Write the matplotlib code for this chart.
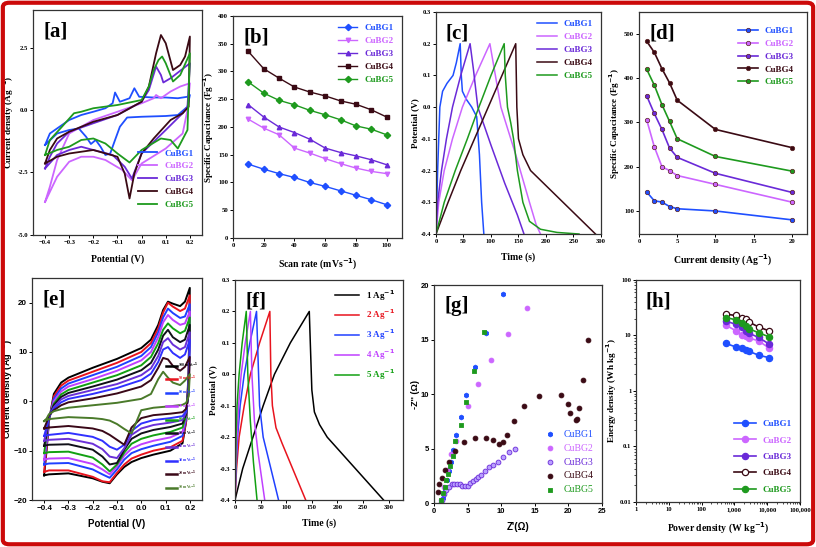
import matplotlib
matplotlib.use("Agg")
import matplotlib.pyplot as plt
from matplotlib.patches import FancyBboxPatch
from matplotlib.ticker import LogLocator, NullFormatter

plt.rcParams['font.family'] = ['Liberation Serif', 'DejaVu Serif']
plt.rcParams['font.weight'] = 'bold'
plt.rcParams['axes.labelweight'] = 'bold'
plt.rcParams['mathtext.default'] = 'bf'

# ---------------- data ----------------
names = ["CuBG1", "CuBG2", "CuBG3", "CuBG4", "CuBG5"]
colors = ["#1f4fff", "#cc66ff", "#6a2ad8", "#3a0a14", "#1e9a1e"]

# [a] CV at 10 mV/s, (potential, current) pairs for each sample
cv_a = {
    "CuBG1": [(-0.4, -1.4), (-0.38, -0.94), (-0.3, -0.4), (-0.25, -0.2), (-0.2, -0.07), (-0.15, 0.07),
              (-0.12, 0.27), (-0.11, 0.7), (-0.09, 0.33), (-0.05, 0.47), (-0.03, 0.87), (-0.01, 0.53),
              (0.05, 0.5), (0.1, 0.5), (0.15, 0.47), (0.19, 0.53), (0.2, 0.6),
              (0.19, 0.13), (0.15, -0.2), (0.1, -0.24), (0.0, -0.27), (-0.06, -0.3), (-0.09, -0.67),
              (-0.11, -1.2), (-0.13, -1.74), (-0.15, -1.8), (-0.17, -1.47), (-0.19, -1.2), (-0.21, -1.36),
              (-0.23, -1.07), (-0.26, -0.74), (-0.3, -0.8), (-0.35, -0.94), (-0.4, -1.4)],
    "CuBG2": [(-0.4, -3.68), (-0.38, -3.07), (-0.35, -2.0), (-0.3, -0.94), (-0.2, -0.4), (-0.1, -0.07),
              (0.0, 0.27), (0.05, 0.47), (0.06, 0.6), (0.08, 0.47), (0.12, 0.74), (0.16, 0.94), (0.2, 1.07),
              (0.19, 0.0), (0.17, -0.94), (0.1, -1.54), (0.0, -2.14), (-0.04, -2.81), (-0.08, -2.4),
              (-0.15, -2.0), (-0.2, -1.87), (-0.25, -1.87), (-0.3, -2.07), (-0.35, -2.67), (-0.4, -3.68)],
    "CuBG3": [(-0.4, -2.34), (-0.38, -1.87), (-0.35, -1.34), (-0.3, -0.87), (-0.2, -0.53), (-0.1, -0.2),
              (0.0, 0.33), (0.03, 0.8), (0.06, 1.74), (0.08, 1.4), (0.09, 1.1), (0.12, 1.27), (0.2, 1.87),
              (0.19, 0.13), (0.17, -0.13), (0.1, -0.8), (0.0, -1.74), (-0.04, -2.74), (-0.07, -2.27),
              (-0.12, -1.8), (-0.2, -1.6), (-0.25, -1.47), (-0.3, -1.6), (-0.35, -1.8), (-0.4, -2.34)],
    "CuBG4": [(-0.4, -2.14), (-0.38, -1.6), (-0.35, -1.14), (-0.3, -0.87), (-0.2, -0.47), (-0.1, -0.2),
              (0.0, 0.33), (0.03, 0.94), (0.06, 2.27), (0.08, 3.0), (0.1, 2.67), (0.13, 1.6), (0.16, 1.8),
              (0.18, 2.14), (0.2, 2.94),
              (0.195, 0.13), (0.17, -0.13), (0.12, -0.4), (0.05, -1.14), (0.0, -1.74), (-0.03, -2.54),
              (-0.05, -3.54), (-0.07, -2.54), (-0.1, -1.87), (-0.2, -1.6), (-0.3, -1.74), (-0.35, -1.87),
              (-0.4, -2.14)],
    "CuBG5": [(-0.4, -1.8), (-0.38, -1.2), (-0.33, -0.67), (-0.28, -0.13), (-0.25, -0.07), (-0.2, 0.07),
              (-0.1, 0.2), (0.0, 0.4), (0.03, 0.94), (0.05, 1.6), (0.07, 2.0), (0.085, 2.14), (0.1, 1.87),
              (0.13, 1.14), (0.16, 1.4), (0.2, 2.27),
              (0.19, -0.8), (0.15, -1.54), (0.12, -1.2), (0.08, -1.14), (0.0, -1.6), (-0.05, -2.1),
              (-0.1, -1.74), (-0.15, -1.34), (-0.2, -1.14), (-0.25, -1.2), (-0.3, -1.47), (-0.35, -1.6),
              (-0.4, -1.8)],
}

# [b] specific capacitance vs scan rate
scan_rate = [10, 20, 30, 40, 50, 60, 70, 80, 90, 100]
cs_scan = {
    "CuBG1": [133, 124, 116, 109, 100, 93, 85, 77, 69, 60],
    "CuBG2": [214, 198, 186, 162, 153, 143, 134, 126, 120, 116],
    "CuBG3": [240, 218, 200, 190, 178, 162, 154, 148, 141, 132],
    "CuBG4": [336, 305, 288, 272, 263, 256, 247, 241, 231, 218],
    "CuBG5": [281, 261, 248, 240, 230, 222, 213, 202, 196, 186],
}

# [c] GCD at 1 A/g
gcd_c = {
    "CuBG1": [(0, -0.4), (3, -0.2), (7, 0.0), (12, 0.05), (20, 0.075), (31, 0.1), (37, 0.14), (44, 0.2),
              (46, 0.1), (48, 0.05), (55, 0.025), (65, 0.0), (74, -0.03), (79, -0.15), (83, -0.3), (87, -0.4)],
    "CuBG2": [(0, -0.4), (5, -0.3), (15, -0.2), (30, -0.1), (48, 0.0), (72, 0.1), (98, 0.2),
              (108, 0.1), (118, 0.0), (145, -0.15), (170, -0.3), (182, -0.37), (190, -0.4)],
    "CuBG3": [(0, -0.4), (3, -0.3), (10, -0.2), (19, -0.1), (30, 0.0), (45, 0.1), (62, 0.2),
              (68, 0.12), (76, 0.0), (100, -0.12), (125, -0.24), (148, -0.34), (160, -0.4)],
    "CuBG4": [(0, -0.4), (22, -0.3), (45, -0.2), (70, -0.1), (95, 0.0), (120, 0.1), (145, 0.2),
              (147, 0.0), (150, -0.1), (158, -0.15), (172, -0.2), (290, -0.4)],
    "CuBG5": [(0, -0.4), (15, -0.3), (35, -0.2), (57, -0.1), (78, 0.0), (100, 0.1), (124, 0.2),
              (126, 0.1), (130, 0.0), (136, -0.05), (141, -0.1), (148, -0.2), (158, -0.3), (170, -0.36),
              (190, -0.385), (220, -0.395), (260, -0.4)],
}

# [d] specific capacitance vs current density
current_density = [1, 2, 3, 4, 5, 10, 20]
cs_current = {
    "CuBG1": [143, 123, 120, 110, 105, 100, 80],
    "CuBG2": [306, 245, 200, 191, 180, 160, 120],
    "CuBG3": [360, 320, 284, 242, 221, 185, 142],
    "CuBG4": [483, 458, 421, 389, 350, 284, 243],
    "CuBG5": [420, 384, 340, 302, 263, 223, 190],
}

# [e] CV of CuBG4 at different scan rates
e_labels = ["100 mVs$^{-1}$", "90 mVs$^{-1}$", "80 mVs$^{-1}$", "70 mVs$^{-1}$", "60 mVs$^{-1}$",
            "50 mVs$^{-1}$", "40 mVs$^{-1}$", "30 mVs$^{-1}$", "20 mVs$^{-1}$", "10 mVs$^{-1}$"]
e_colors = ["#000000", "#e8141e", "#2040ff", "#c040ff", "#12a012",
            "#101018", "#6a30d8", "#3030ff", "#3a0818", "#4a7a2a"]
e_fwd_v = [-0.4, -0.39, -0.38, -0.36, -0.33, -0.3, -0.2, -0.1, 0.0, 0.04, 0.07, 0.09, 0.11, 0.13, 0.16, 0.18, 0.2]
e_rev_v = [0.2, 0.195, 0.185, 0.17, 0.12, 0.05, 0.0, -0.04, -0.07, -0.1, -0.13, -0.16, -0.2, -0.3, -0.38, -0.4]
e_fwd_i = [
    [-15, -10, -4, 1.5, 3.8, 4.8, 6.8, 8.6, 10.8, 12.5, 15.5, 18.5, 20.2, 19.8, 19.3, 20.2, 23],
    [-14.3, -9.5, -4, 1, 3.2, 4.2, 6.0, 7.8, 10.0, 11.8, 14.8, 18, 20.0, 19.2, 18.3, 18.8, 21.5],
    [-12.8, -8.5, -3.8, 0.5, 2.6, 3.6, 5.3, 7.0, 9.2, 11.0, 14.0, 17, 18.8, 17.9, 16.9, 17.2, 19.7],
    [-11.8, -8, -3.6, 0, 2, 3.0, 4.5, 6.2, 8.3, 10.0, 13, 16, 17.5, 16.5, 15.5, 15.8, 18.2],
    [-10.5, -7, -3.4, -0.5, 1.4, 2.3, 3.8, 5.3, 7.3, 9.0, 11.8, 14.5, 15.8, 14.8, 13.8, 14.3, 17],
    [-9, -6.5, -3.2, -0.8, 0.9, 1.7, 3.0, 4.4, 6.3, 7.8, 10.5, 13.3, 14.5, 13.0, 12.0, 12.5, 15.5],
    [-8, -6, -3, -1.2, 0.4, 1.1, 2.3, 3.5, 5.3, 6.7, 9.2, 12, 12.8, 11.5, 10.5, 11, 14],
    [-7, -5.3, -3, -1.5, -0.2, 0.5, 1.5, 2.7, 4.3, 5.6, 8.0, 10.5, 11.0, 9.8, 8.8, 9.5, 12.5],
    [-5.5, -4.3, -2.8, -1.8, -0.8, -0.2, 0.6, 1.6, 3.0, 4.3, 6.8, 8.8, 8.5, 7.2, 6.2, 7.0, 9],
    [-4, -3.5, -2.6, -2.0, -1.6, -1.3, -0.8, -0.3, 0.5, 1.5, 4.5, 6.0, 4.8, 3.8, 3.3, 4.2, 5.5],
]
e_rev_i = [
    [23, 6, -4, -8.5, -10, -10.8, -11.5, -12.3, -13.3, -14.8, -16.6, -16.3, -15.6, -14.6, -14.8, -15],
    [21.5, 5, -4, -8, -9.3, -10.0, -10.8, -11.6, -12.8, -14.5, -16.4, -16.2, -15.3, -14.0, -14.0, -14.3],
    [19.7, 4.5, -3.5, -7, -8.2, -9.0, -9.7, -10.5, -11.8, -13.8, -15.5, -14.8, -13.8, -12.5, -12.6, -12.8],
    [18.2, 4, -3, -6.2, -7.3, -8.0, -8.7, -9.6, -11.0, -13.2, -14.8, -13.8, -12.7, -11.5, -11.6, -11.8],
    [17, 3.5, -2.8, -5.3, -6.2, -6.9, -7.6, -8.6, -10.4, -12.8, -14.2, -12.8, -11.4, -10.2, -10.3, -10.5],
    [15.5, 3, -2.5, -4.5, -5.2, -5.8, -6.5, -7.6, -9.8, -12.5, -12.8, -11.2, -9.8, -8.7, -8.8, -9],
    [14, 2.5, -2.2, -3.8, -4.3, -4.8, -5.5, -6.8, -9.5, -11.5, -11.2, -9.7, -8.6, -7.6, -7.8, -8],
    [12.5, 2, -2, -3.0, -3.4, -3.8, -4.5, -6.0, -8.8, -9.8, -9.2, -8.0, -7.2, -6.4, -6.8, -7],
    [9, 1.5, -1.5, -2.2, -2.5, -2.8, -3.4, -5.3, -8.8, -7.8, -6.8, -6.0, -5.5, -5.0, -5.3, -5.5],
    [5.5, 1, -0.3, -0.7, -1.0, -1.3, -1.8, -6.5, -5.6, -4.6, -3.9, -3.6, -3.4, -3.2, -3.6, -4],
]

# [f] GCD of CuBG4 at different current densities
f_labels = ["1 Ag$^{-1}$", "2 Ag$^{-1}$", "3 Ag$^{-1}$", "4 Ag$^{-1}$", "5 Ag$^{-1}$"]
f_colors = ["#000000", "#e8141e", "#2040ff", "#c040ff", "#12a012"]
gcd_f = [
    [(0, -0.4), (15, -0.3), (35, -0.2), (55, -0.1), (77, 0.0), (108, 0.1), (145, 0.2),
     (148, 0.05), (150, -0.05), (155, -0.12), (165, -0.16), (180, -0.2), (290, -0.4)],
    [(0, -0.4), (3, -0.3), (8, -0.2), (18, -0.1), (30, 0.0), (48, 0.1), (68, 0.2),
     (70, 0.0), (73, -0.1), (80, -0.17), (92, -0.22), (138, -0.4)],
    [(0, -0.4), (2, -0.3), (5, -0.2), (10, -0.1), (18, 0.0), (29, 0.1), (42, 0.2),
     (45, 0.05), (48, -0.1), (55, -0.2), (70, -0.3), (85, -0.4)],
    [(0, -0.4), (1.5, -0.3), (4, -0.2), (7, -0.1), (12, 0.0), (20, 0.1), (30, 0.2),
     (33, 0.0), (38, -0.15), (45, -0.25), (58, -0.4)],
    [(0, -0.4), (1, -0.3), (2, -0.2), (4, -0.1), (8, 0.0), (14, 0.1), (22, 0.2),
     (25, 0.0), (30, -0.15), (36, -0.28), (43, -0.4)],
]

# [g] Nyquist plots
z_re = {
    "CuBG1": [10.3, 7.8, 6.1, 4.8, 4.0, 3.3, 2.8, 2.5, 2.2, 2.0, 1.7, 1.3, 1.1],
    "CuBG2": [13.9, 11.0, 8.5, 6.5, 5.1, 3.3, 2.5, 2.0, 1.5, 1.0],
    "CuBG3": [1.0, 1.2, 1.5, 1.8, 2.2, 2.6, 3.0, 3.4, 3.8, 4.2, 4.6, 5.0, 5.4, 5.8, 6.2, 6.6, 7.0,
              7.6, 8.2, 8.8, 9.5, 10.3, 11.1, 12.0],
    "CuBG4": [0.6, 0.8, 1.2, 1.6, 2.2, 3.1, 4.5, 6.1, 7.8, 8.8, 9.6, 10.2, 10.8, 11.9, 13.4, 15.6,
              18.9, 19.9, 20.2, 21.1, 21.3, 21.5, 22.2, 22.9],
    "CuBG5": [7.4, 5.9, 4.7, 4.0, 3.1, 2.8, 2.4, 2.1, 1.8, 1.6, 1.3, 1.1],
}
z_im = {
    "CuBG1": [19.2, 15.6, 12.5, 9.9, 7.9, 6.2, 4.9, 3.8, 2.9, 2.1, 1.2, 0.5, 0.1],
    "CuBG2": [17.9, 15.5, 13.1, 10.9, 8.9, 5.7, 4.5, 3.0, 1.5, 0.3],
    "CuBG3": [0.0, 0.3, 0.8, 1.2, 1.5, 1.7, 1.75, 1.75, 1.7, 1.6, 1.55, 1.6, 1.8, 2.0, 2.2, 2.4, 2.6,
              2.9, 3.3, 3.5, 3.8, 4.2, 4.7, 5.0],
    "CuBG4": [1.0, 1.7, 2.3, 3.0, 3.8, 4.8, 5.6, 6.0, 6.0, 5.8, 5.4, 5.6, 6.2, 7.5, 8.9, 9.8,
              9.9, 9.1, 8.3, 7.6, 7.7, 8.7, 11.3, 15.0],
    "CuBG5": [15.7, 12.1, 9.3, 7.2, 5.7, 4.3, 3.4, 2.7, 2.1, 1.5, 0.9, 0.3],
}

# [h] Ragone plot
power_density = [550, 1100, 1650, 2200, 2750, 5500, 11000]
energy_density = {
    "CuBG1": [7.2, 6.2, 6.0, 5.5, 5.2, 4.4, 4.0],
    "CuBG2": [15.3, 12.2, 10.0, 9.6, 9.0, 8.0, 6.0],
    "CuBG3": [18.0, 16.0, 14.2, 12.1, 11.0, 9.2, 7.1],
    "CuBG4": [24.2, 22.9, 21.0, 19.5, 17.5, 14.2, 12.2],
    "CuBG5": [21.0, 19.2, 17.0, 15.1, 13.2, 11.2, 9.5],
}

# ---------------- figure ----------------
fig = plt.figure(figsize=(8.16, 5.47), dpi=100)
fig.patches.append(FancyBboxPatch((0.0035, 0.005), 0.993, 0.99, boxstyle="round,pad=0,rounding_size=0.008",
                                  transform=fig.transFigure, fill=False, edgecolor="#cc0a0a", linewidth=3.0))

pos = {
    "a": [0.0404, 0.5704, 0.2071, 0.4113],
    "b": [0.2855, 0.5649, 0.2071, 0.4059],
    "c": [0.5343, 0.5722, 0.2022, 0.4059],
    "d": [0.7831, 0.5722, 0.2059, 0.4059],
    "e": [0.0392, 0.0859, 0.2083, 0.4059],
    "f": [0.2880, 0.0859, 0.2059, 0.4022],
    "g": [0.5319, 0.0804, 0.2059, 0.3985],
    "h": [0.7794, 0.0823, 0.2010, 0.4059],
}
# where the y label sits (axes fraction)
ylab_x = {"a": -0.102, "b": -0.098, "c": -0.102, "d": -0.10, "e": -0.097, "f": -0.105, "g": -0.085, "h": -0.105}


def style(ax, tag, xlabel, ylabel, sans=False, tsize=4.8):
    fam = ['Liberation Sans', 'DejaVu Sans'] if sans else ['Liberation Serif', 'DejaVu Serif']
    for s in ax.spines.values():
        s.set_linewidth(0.9)
        s.set_color("#333333")
    ax.tick_params(labelsize=tsize, length=2.2, width=0.7, pad=1.2)
    for lab in ax.get_xticklabels() + ax.get_yticklabels():
        lab.set_family(fam)
        lab.set_fontweight('bold')
    ax.set_xlabel(xlabel, fontsize=7, family=fam)
    ax.set_ylabel(ylabel, fontsize=6.6, family=fam)
    ax.xaxis.set_label_coords(0.5, -0.085)
    ax.yaxis.set_label_coords(ylab_x[tag], 0.5)
    ax.text(0.06, 0.95, "[" + tag + "]", transform=ax.transAxes, fontsize=15, va="top",
            family=['Liberation Serif'], fontweight='bold')


def color_legend(leg, cols):
    for t, c in zip(leg.get_texts(), cols):
        t.set_color(c)


# [a]
ax = fig.add_axes(pos["a"])
for n, c in zip(names, colors):
    ax.plot([p[0] for p in cv_a[n]], [p[1] for p in cv_a[n]], color=c, lw=1.3, label=n)
ax.set_xlim(-0.45, 0.25)
ax.set_ylim(-5, 4)
ax.set_xticks([-0.4, -0.3, -0.2, -0.1, 0.0, 0.1, 0.2])
ax.set_yticks([-5.0, -2.5, 0.0, 2.5])
ax.set_yticklabels(["-5.0", "-2.5", "0.0", "2.5"])
leg = ax.legend(loc="lower right", bbox_to_anchor=(1.0, 0.08), frameon=False, fontsize=6.5,
                handlelength=2.2, labelspacing=0.5)
color_legend(leg, colors)
style(ax, "a", "Potential (V)", "Current density (Ag$^{-1}$)")

# [b]
ax = fig.add_axes(pos["b"])
markers_b = ["D", "v", "^", "s", "D"]
for n, c, m in zip(names, colors, markers_b):
    ax.plot(scan_rate, cs_scan[n], color=c, lw=1.0, marker=m, ms=3.2, label=n)
ax.set_xlim(0, 110)
ax.set_ylim(0, 400)
ax.set_xticks([0, 20, 40, 60, 80, 100])
ax.set_yticks(range(0, 401, 50))
leg = ax.legend(loc="upper right", frameon=False, fontsize=6.5, handlelength=2.2, labelspacing=0.5)
color_legend(leg, colors)
style(ax, "b", "Scan rate (mVs$^{-1}$)", "Specific Capacitance (Fg$^{-1}$)")

# [c]
ax = fig.add_axes(pos["c"])
for n, c in zip(names, colors):
    ax.plot([p[0] for p in gcd_c[n]], [p[1] for p in gcd_c[n]], color=c, lw=1.1, label=n)
ax.set_xlim(0, 300)
ax.set_ylim(-0.4, 0.3)
ax.set_xticks(range(0, 301, 50))
ax.set_yticks([-0.4, -0.3, -0.2, -0.1, 0.0, 0.1, 0.2, 0.3])
ax.set_yticklabels(["-0.4", "-0.3", "-0.2", "-0.1", "0.0", "0.1", "0.2", "0.3"])
leg = ax.legend(loc="upper right", frameon=False, fontsize=6.5, handlelength=2.2, labelspacing=0.5)
color_legend(leg, colors)
style(ax, "c", "Time (s)", "Potential (V)")

# [d]
ax = fig.add_axes(pos["d"])
for n, c in zip(names, colors):
    ax.plot(current_density, cs_current[n], color=c, lw=1.2, marker="o", ms=3.2,
            mec="#5a2020", mew=0.5, label=n)
ax.set_xlim(0, 22)
ax.set_ylim(48, 549)
ax.set_xticks([0, 5, 10, 15, 20])
ax.set_yticks([100, 200, 300, 400, 500])
leg = ax.legend(loc="upper right", bbox_to_anchor=(0.97, 0.97), frameon=False, fontsize=6.5,
                handlelength=2.2, labelspacing=0.5)
color_legend(leg, colors)
style(ax, "d", "Current density (Ag$^{-1}$)", "Specific Capacitance (Fg$^{-1}$)")

# [e]
ax = fig.add_axes(pos["e"])
for k in range(len(e_labels)):
    ax.plot(e_fwd_v + e_rev_v, e_fwd_i[k] + e_rev_i[k], color=e_colors[k], lw=1.4, label=e_labels[k])
ax.set_xlim(-0.45, 0.25)
ax.set_ylim(-20, 25)
ax.set_xticks([-0.4, -0.3, -0.2, -0.1, 0.0, 0.1, 0.2])
ax.set_yticks([-20, -10, 0, 10, 20])
leg = ax.legend(loc="lower right", bbox_to_anchor=(1.0, 0.02), frameon=False, fontsize=2.8,
                handlelength=2.6, labelspacing=1.1, handletextpad=0.4)
for ln in leg.get_lines():
    ln.set_linewidth(1.8)
color_legend(leg, e_colors)
style(ax, "e", "Potential (V)", "Current density (Ag$^{-1}$)", sans=True, tsize=5.8)

# [f]
ax = fig.add_axes(pos["f"])
for k in range(len(f_labels)):
    ax.plot([p[0] for p in gcd_f[k]], [p[1] for p in gcd_f[k]], color=f_colors[k], lw=1.1, label=f_labels[k])
ax.set_xlim(0, 328)
ax.set_ylim(-0.4, 0.3)
ax.set_xticks(range(0, 301, 50))
ax.set_yticks([-0.4, -0.3, -0.2, -0.1, 0.0, 0.1, 0.2, 0.3])
ax.set_yticklabels(["-0.4", "-0.3", "-0.2", "-0.1", "0.0", "0.1", "0.2", "0.3"])
leg = ax.legend(loc="upper right", frameon=False, fontsize=6.5, handlelength=2.6, labelspacing=0.6)
color_legend(leg, f_colors)
style(ax, "f", "Time (s)", "Potential (V)")

# [g]
ax = fig.add_axes(pos["g"])
markers_g = ["h", "o", "o", "o", "s"]
for n, c, m in zip(names, colors, markers_g):
    face = "#b9a0ff" if n == "CuBG3" else c
    ax.scatter(z_re[n], z_im[n], s=12, marker=m, facecolor=face, edgecolor=c, lw=0.6, label=n)
ax.set_xlim(0, 25)
ax.set_ylim(0, 20)
ax.set_xticks([0, 5, 10, 15, 20, 25])
ax.set_yticks([0, 5, 10, 15, 20])
leg = ax.legend(loc="lower right", frameon=False, fontsize=7, handletextpad=0.4, labelspacing=0.5)
color_legend(leg, colors)
style(ax, "g", "Z'(\u03a9)", "-Z'' (\u03a9)", sans=True, tsize=5.5)
for t in leg.get_texts():
    t.set_family(['Liberation Serif'])
    t.set_fontweight('normal')

# [h]
ax = fig.add_axes(pos["h"])
for n, c in zip(names, colors):
    face = "white" if n == "CuBG4" else c
    ax.plot(power_density, energy_density[n], color=c, lw=1.2, marker="o", ms=4.5,
            mfc=face, mec=c, mew=0.9, label=n)
ax.set_xscale("log")
ax.set_yscale("log")
ax.set_xlim(1, 100000)
ax.set_ylim(0.01, 100)
ax.set_xticks([1, 10, 100, 1000, 10000, 100000])
ax.set_xticklabels(["1", "10", "100", "1,000", "10,000", "100,000"])
ax.set_yticks([0.01, 0.1, 1, 10, 100])
ax.set_yticklabels(["0.01", "0.1", "1", "10", "100"])
ax.xaxis.set_minor_locator(LogLocator(base=10, subs=range(2, 10)))
ax.yaxis.set_minor_locator(LogLocator(base=10, subs=range(2, 10)))
ax.xaxis.set_minor_formatter(NullFormatter())
ax.yaxis.set_minor_formatter(NullFormatter())
ax.tick_params(which="minor", length=1.5, width=0.5)
leg = ax.legend(loc="lower right", frameon=False, fontsize=6.5, handlelength=2.4, labelspacing=0.9)
color_legend(leg, colors)
style(ax, "h", "Power density (W kg$^{-1}$)", "Energy density (Wh kg$^{-1}$)")

fig.savefig("out.png", dpi=100)
